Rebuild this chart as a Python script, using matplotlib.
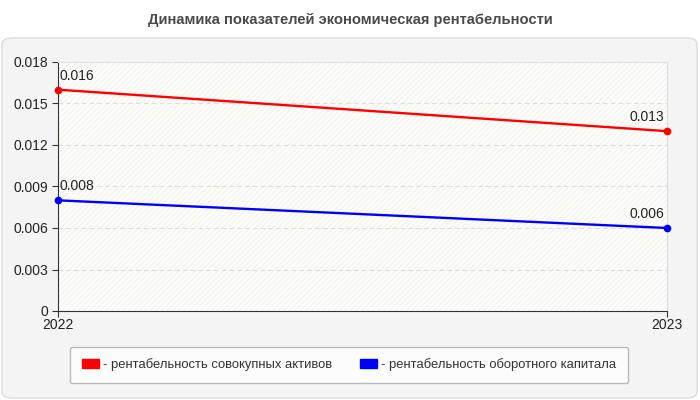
import matplotlib
matplotlib.use("Agg")
import matplotlib.pyplot as plt
from matplotlib.patches import FancyBboxPatch, Patch, Rectangle

plt.rcParams['font.family'] = ['Liberation Sans', 'DejaVu Sans']
plt.rcParams['hatch.linewidth'] = 0.6

years = ['2022', '2023']
assets = [0.016, 0.013]
working_capital = [0.008, 0.006]
yticks = [0, 0.003, 0.006, 0.009, 0.012, 0.015, 0.018]
ytick_labels = ['0', '0.003', '0.006', '0.009', '0.012', '0.015', '0.018']
names = ['- рентабельность совокупных активов', '- рентабельность оборотного капитала']
colors = ['#ff0000', '#0000ff']

W, H = 700, 400
fig = plt.figure(figsize=(7, 4), dpi=100)
fig.patch.set_facecolor('white')

# grey panel behind the chart
panel = FancyBboxPatch((2 / W, 2 / H), 695 / W, 360 / H, boxstyle="round,pad=0,rounding_size=0.015",
                       transform=fig.transFigure, facecolor='#f4f4f4', edgecolor='#dcdcdc', lw=1,
                       zorder=-5)
fig.patches.append(panel)

fig.text(350 / W, 1 - 20 / H, 'Динамика показателей экономическая рентабельности',
         ha='center', va='center', fontsize=10.6, fontweight='bold', color='#4a4a4a')

ax = fig.add_axes([58 / W, 1 - 311 / H, 609 / W, 249 / H])
ax.set_facecolor('#fdfdfa')
ax.add_patch(Rectangle((0, 0), 1, 1, transform=ax.transAxes, facecolor='none',
                       edgecolor='#eeeeee', hatch='//////', lw=0, zorder=0))

x = [0, 1]
for vals, c in zip([assets, working_capital], colors):
    ax.plot(x, vals, color=c, lw=1.7, marker='o', ms=4.5, zorder=3, clip_on=False)
    ax.annotate(f'{vals[0]:.3f}', (0, vals[0]), xytext=(1, 5), textcoords='offset points',
                ha='left', va='bottom', fontsize=10, color='#222222')
    ax.annotate(f'{vals[1]:.3f}', (1, vals[1]), xytext=(-2, 5), textcoords='offset points',
                ha='right', va='bottom', fontsize=10, color='#222222')

ax.set_xlim(0, 1)
ax.set_ylim(0, 0.018)
ax.set_yticks(yticks)
ax.set_yticklabels(ytick_labels)
ax.set_xticks(x)
ax.set_xticklabels(years)
ax.tick_params(axis='y', length=4, color='#333333', labelsize=10, labelcolor='#222222', pad=3)
ax.tick_params(axis='x', length=4, color='#333333', labelsize=10, labelcolor='#222222', pad=1)
ax.grid(axis='y', color='#dddddd', ls=(0, (4, 3)), lw=0.8)
ax.spines['left'].set_color('#333333')
ax.spines['bottom'].set_color('#333333')
ax.spines['right'].set_color('#dddddd')
ax.spines['top'].set_color('#e2e2e2')

handles = [Patch(facecolor=c, edgecolor=c) for c in colors]
leg = fig.legend(handles, names, loc='center', bbox_to_anchor=(349 / W, 1 - 365 / H), ncol=2,
                 fontsize=9.4, frameon=True, fancybox=True, handlelength=1.3, handleheight=0.7,
                 handletextpad=0.3, columnspacing=2.2, borderpad=0.9)
leg.get_frame().set_edgecolor('#aaaaaa')
leg.get_frame().set_facecolor('white')
for t in leg.get_texts():
    t.set_color('#333333')

fig.savefig('out.png', dpi=100)
